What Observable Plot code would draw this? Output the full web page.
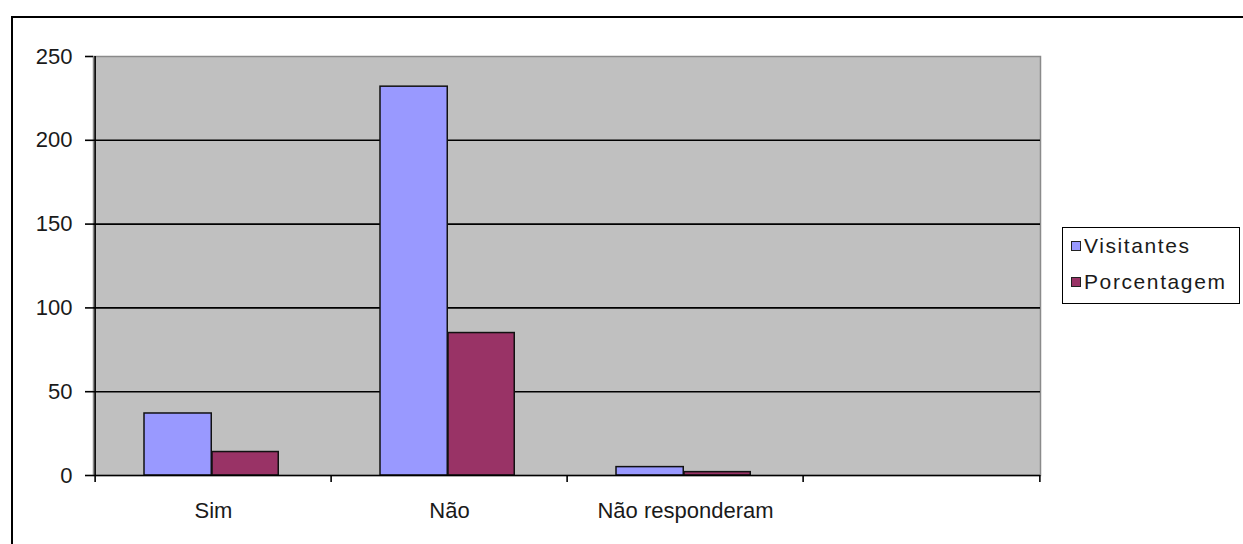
<!DOCTYPE html>
<html>
<head>
<meta charset="utf-8">
<script src="https://cdn.jsdelivr.net/npm/d3@7"></script>
<script src="https://cdn.jsdelivr.net/npm/@observablehq/plot@0.6"></script>
<style>
  html, body { margin: 0; padding: 0; background: #fff; overflow: hidden; }
  #wrap { position: relative; width: 1243px; height: 544px; font-family: "Liberation Sans", Arial, sans-serif; }
  #border { position: absolute; left: 11px; top: 16px; width: 1400px; height: 700px; border-left: 2px solid #000; border-top: 2px solid #000; pointer-events: none; }
  #chart { position: absolute; left: 0; top: 0; }
  #legend { position: absolute; left: 1062px; top: 227px; width: 178px; height: 77px; border: 1.5px solid #000; background: #fff; box-sizing: border-box; }
  .item { position: absolute; left: 8px; height: 24px; display: flex; align-items: center; font-size: 21px; letter-spacing: 1.6px; color: #1a1a1a; white-space: nowrap; }
  .sw { width: 8px; height: 8px; border: 1px solid #222; margin-right: 3px; flex: none; }
</style>
</head>
<body>
<div id="wrap">
  <div id="chart"></div>
  <div id="border"></div>
  <div id="legend"></div>
</div>
<script>
const categories = ["Sim", "Não", "Não responderam"];
const slots = [...categories, " "];          // fourth, empty category slot
const series = ["Visitantes", "Porcentagem"];
const visitantes = [37, 232, 5];
const porcentagem = [14, 85, 2];
const yTicks = [0, 50, 100, 150, 200, 250];
const gridValues = [50, 100, 150, 200];
const colors = ["#9999ff", "#993366"];

const data = categories.flatMap((c, i) => [
  {cat: c, series: series[0], value: visitantes[i]},
  {cat: c, series: series[1], value: porcentagem[i]}
]);

const W = 1243, H = 544;
const mL = 93, mR = 203, mT = 56, mB = 69;
const half = (W - mL - mR) / slots.length / 2;

const chart = Plot.plot({
  width: W,
  height: H,
  marginLeft: mL,
  marginRight: mR,
  marginTop: mT,
  marginBottom: mB,
  style: {fontFamily: '"Liberation Sans", Arial, sans-serif', fontSize: "22px", background: "transparent", color: "#1a1a1a"},
  x: {domain: slots, padding: 0, axis: null, label: null},
  y: {domain: [0, 250], axis: null, label: null},
  marks: [
    Plot.frame({fill: "#c0c0c0", stroke: "#8a8a8a", strokeWidth: 1.5}),
    Plot.ruleY(gridValues, {stroke: "#000", strokeWidth: 1.6}),
    Plot.barY(data.filter(d => d.series === series[0]), {
      x: "cat", y: "value", fill: colors[0], stroke: "#111", strokeWidth: 1.5,
      insetLeft: 49, insetRight: 119.75
    }),
    Plot.barY(data.filter(d => d.series === series[1]), {
      x: "cat", y: "value", fill: colors[1], stroke: "#111", strokeWidth: 1.5,
      insetLeft: 117, insetRight: 52.75
    }),
    Plot.ruleY([0], {stroke: "#000", strokeWidth: 1.6}),
    Plot.ruleX([slots[0]], {x: d => d, dx: -half, y1: 0, y2: 250, stroke: "#000", strokeWidth: 1.6}),
    Plot.axisX({ticks: slots, dx: -half, tickSize: 7, tickFormat: () => "", label: null, stroke: "#000", strokeWidth: 1.6}),
    Plot.axisX({ticks: [slots[3]], dx: half, tickSize: 7, tickFormat: () => "", label: null, stroke: "#000", strokeWidth: 1.6}),
    Plot.axisX({ticks: slots, tickSize: 0, tickPadding: 27, label: null, fontSize: 22, fill: "#1a1a1a"}),
    Plot.axisY({ticks: yTicks, tickSize: 8, tickPadding: 13, label: null, fontSize: 22, fill: "#1a1a1a", stroke: "#000", strokeWidth: 1.6})
  ]
});
document.getElementById("chart").appendChild(chart);

const legend = document.getElementById("legend");
series.forEach((s, i) => {
  const item = document.createElement("div");
  item.className = "item";
  item.style.top = (6 + i * 36) + "px";
  const sw = document.createElement("span");
  sw.className = "sw";
  sw.style.background = colors[i];
  item.appendChild(sw);
  item.appendChild(document.createTextNode(s));
  legend.appendChild(item);
});
</script>
</body>
</html>
